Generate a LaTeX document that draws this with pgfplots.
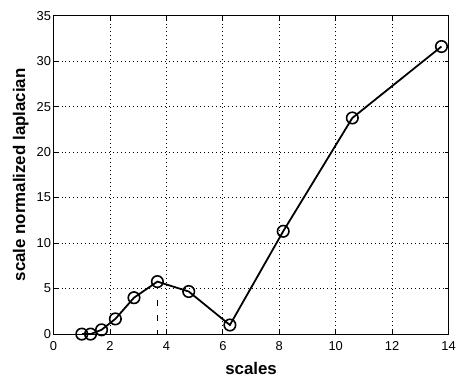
\documentclass[border=0pt]{standalone}
\usepackage{pgfplots}
\pgfplotsset{compat=1.18}
\usepackage{fontspec}
\setmainfont{Liberation Sans}

\begin{document}
\begin{tikzpicture}
\begin{axis}[
  name=ax,
  scale only axis,
  width=398pt, height=321pt,
  xmin=0, xmax=14, ymin=0, ymax=35,
  xtick={0,2,...,14}, ytick={0,5,...,35},
  grid=major,
  major grid style={black, line width=0.8pt, dash pattern=on 1pt off 3pt},
  axis line style={black, line width=1pt},
  tick align=inside,
  major tick length=4pt,
  tick style={black, line width=0.8pt},
  /pgf/number format/assume math mode=true,
  ticklabel style={font=\fontsize{13}{15}\selectfont},
  yticklabel style={xshift=1pt},
  xticklabel style={yshift=-4pt},
  xlabel={\textbf{scales}},
  ylabel={\textbf{scale normalized laplacian}},
  label style={font=\fontsize{17}{19}\selectfont},
  xlabel style={at={(axis description cs:0.5,0)}, anchor=center, yshift=-35pt},
  ylabel style={at={(axis description cs:0,0.5)}, anchor=center, yshift=33pt},
]
\addplot[black, line width=1.8pt, mark=o, mark size=5.8pt,
         mark options={line width=1.6pt}]
  coordinates {
  (1.00,0.00) (1.31,0.00) (1.70,0.47) (2.19,1.67) (2.85,4.00)
  (3.68,5.77) (4.79,4.68) (6.25,1.00) (8.14,11.3) (10.59,23.75)
  (13.75,31.6)
  };
% marker at the maximum of the first bump
\addplot[black, line width=1pt, dash pattern=on 6pt off 9pt]
  coordinates {(3.68,3.7) (3.68,0)};
\end{axis}
\path[use as bounding box] (ax.south west) ++(-54pt,-42pt) rectangle ([shift={(7pt,15.7pt)}]ax.north east);
\end{tikzpicture}
\end{document}
